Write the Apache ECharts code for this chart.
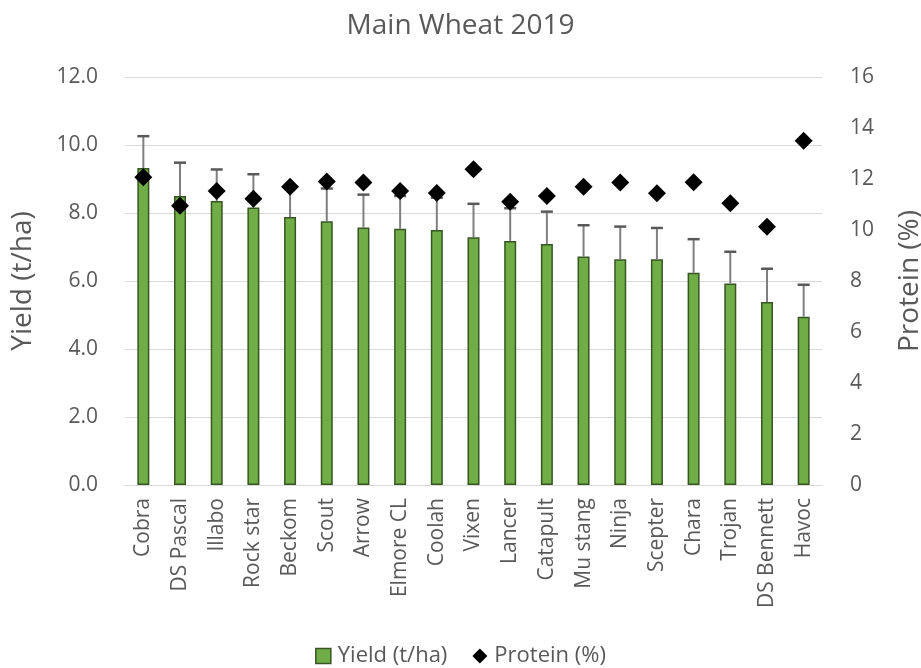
<!DOCTYPE html>
<html>
<head>
<meta charset="utf-8">
<script src="https://cdn.jsdelivr.net/npm/echarts@6/dist/echarts.min.js"></script>
<style>html,body{margin:0;padding:0;background:#fff}#c{width:921px;height:668px}</style>
</head>
<body>
<div id="c"></div>
<script>
var categories = ['Cobra','DS Pascal','Illabo','Rock star','Beckom','Scout','Arrow','Elmore CL','Coolah','Vixen','Lancer','Catapult','Mu stang','Ninja','Scepter','Chara','Trojan','DS Bennett','Havoc'];
var yieldValues = [9.32, 8.50, 8.35, 8.16, 7.88, 7.76, 7.57, 7.54, 7.50, 7.29, 7.18, 7.09, 6.72, 6.64, 6.64, 6.24, 5.93, 5.38, 4.95];
var yieldErrorTop = [10.26, 9.48, 9.28, 9.14, 8.82, 8.72, 8.54, 8.50, 8.45, 8.27, 8.14, 8.04, 7.64, 7.60, 7.56, 7.23, 6.86, 6.36, 5.89];
var proteinValues = [12.07, 10.95, 11.53, 11.23, 11.70, 11.90, 11.86, 11.53, 11.45, 12.38, 11.11, 11.33, 11.70, 11.86, 11.44, 11.87, 11.05, 10.13, 13.50];
var leftTicks = {min: 0, max: 12, interval: 2};
var rightTicks = {min: 0, max: 16, interval: 2};

var FONT = "'Open Sans', 'Liberation Sans', sans-serif";
var TXT = '#595959';
var chart = echarts.init(document.getElementById('c'));
chart.setOption({
  animation: false,
  textStyle: {fontFamily: FONT},
  title: {text: 'Main Wheat 2019', left: 'center', top: 7,
    textStyle: {fontFamily: FONT, fontSize: 28, fontWeight: 'normal', color: TXT}},
  legend: {bottom: -4, left: 'center', itemGap: 25, itemWidth: 15, itemHeight: 15,
    textStyle: {fontFamily: FONT, fontSize: 22, color: TXT, padding: [0, 0, 0, 2]},
    data: [
      {name: 'Yield (t/ha)', icon: 'rect', itemStyle: {color: '#70ad47', borderColor: '#375623', borderWidth: 1.5}},
      {name: 'Protein (%)', icon: 'diamond', itemStyle: {color: '#000', opacity: 1}}
    ]},
  grid: {left: 125, right: 99, top: 77, bottom: 183, outerBoundsMode: 'none', containLabel: false},
  xAxis: {type: 'category', data: categories,
    axisLine: {lineStyle: {color: '#d9d9d9', width: 1}},
    axisTick: {show: false},
    axisLabel: {rotate: 90, interval: 0, margin: 13, fontSize: 21, color: TXT, fontFamily: FONT}},
  yAxis: [
    {type: 'value', min: leftTicks.min, max: leftTicks.max, interval: leftTicks.interval,
      name: 'Yield (t/ha)', nameLocation: 'middle', nameGap: 88,
      nameTextStyle: {fontSize: 28, color: TXT, fontFamily: FONT},
      axisLabel: {margin: 27, fontSize: 21, color: TXT, fontFamily: FONT, formatter: function(v){return v.toFixed(1);}},
      axisLine: {show: false}, axisTick: {show: false},
      splitLine: {lineStyle: {color: '#d9d9d9', width: 1}}},
    {type: 'value', min: rightTicks.min, max: rightTicks.max, interval: rightTicks.interval,
      name: 'Protein (%)', nameLocation: 'middle', nameGap: 74, nameRotate: 90,
      nameTextStyle: {fontSize: 28, color: TXT, fontFamily: FONT},
      axisLabel: {margin: 28, fontSize: 21, color: TXT, fontFamily: FONT},
      axisLine: {show: false}, axisTick: {show: false}, splitLine: {show: false}}
  ],
  series: [
    {name: 'Yield (t/ha)', type: 'bar', data: yieldValues, barWidth: 12, yAxisIndex: 0,
      itemStyle: {color: '#70ad47', borderColor: '#375623', borderWidth: 1.5}, z: 2},
    {name: 'Yield error', type: 'custom', yAxisIndex: 0, z: 3,
      data: yieldValues.map(function(v, i){ return [i, v, yieldErrorTop[i]]; }),
      renderItem: function(params, api){
        var base = api.coord([api.value(0), api.value(1)]);
        var top = api.coord([api.value(0), api.value(2)]);
        var hw = 6;
        return {type: 'group', children: [
          {type: 'line', shape: {x1: base[0], y1: base[1], x2: top[0], y2: top[1]}, style: {stroke: '#7f7f7f', lineWidth: 2}},
          {type: 'line', shape: {x1: top[0]-hw, y1: top[1], x2: top[0]+hw, y2: top[1]}, style: {stroke: '#595959', lineWidth: 2.5}}
        ]};
      }},
    {name: 'Protein (%)', type: 'scatter', data: proteinValues, yAxisIndex: 1,
      symbol: 'diamond', symbolSize: [18, 18], itemStyle: {color: '#000', opacity: 1}, z: 5}
  ]
});
</script>
</body>
</html>
